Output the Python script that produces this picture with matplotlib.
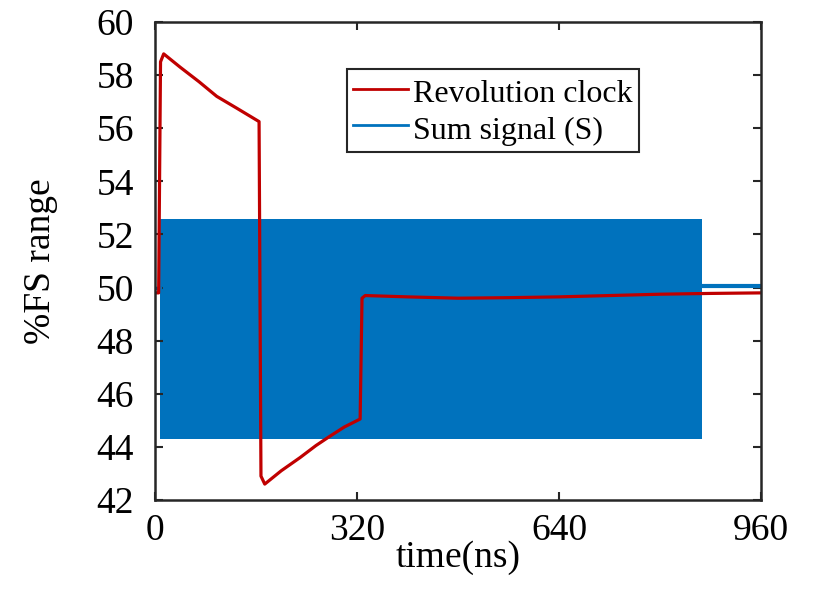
import matplotlib
matplotlib.use("Agg")
import matplotlib.pyplot as plt
from matplotlib.lines import Line2D

plt.rcParams['font.family'] = ['Liberation Serif', 'DejaVu Serif']

# Revolution clock (red) key points: time (ns), %FS
red_t = [0, 6, 9, 14, 40, 70, 98, 130, 165, 168, 174, 200, 230, 255, 277, 300, 325, 328, 333, 400, 480, 560, 640, 720, 800, 880, 960]
red_v = [49.8, 49.8, 58.5, 58.8, 58.3, 57.75, 57.2, 56.75, 56.25, 42.9, 42.6, 43.1, 43.6, 44.05, 44.4, 44.75, 45.05, 49.6, 49.7, 49.65, 49.6, 49.62, 49.65, 49.7, 49.75, 49.78, 49.8]

# Sum signal (blue): envelope of the dense oscillation
sum_t = [8, 867]
sum_hi = [52.6, 52.6]
sum_lo = [44.3, 44.3]
sum_pre_t = [0, 8]
sum_pre_v = [50.0, 50.0]
sum_post_t = [867, 960]
sum_post_v = [50.05, 50.05]

xticks = [0, 320, 640, 960]
yticks = [42, 44, 46, 48, 50, 52, 54, 56, 58, 60]

blue = '#0072BD'
red = '#C00000'

fig = plt.figure(figsize=(8.15, 5.9), dpi=100)
ax = fig.add_axes([0.190, 0.1525, 0.744, 0.8102])

ax.fill_between(sum_t, sum_lo, sum_hi, color=blue, linewidth=0)
ax.plot(sum_pre_t, sum_pre_v, color=blue, lw=2.5)
ax.plot(sum_post_t, sum_post_v, color=blue, lw=3)
ax.plot(red_t, red_v, color=red, lw=2.3)

ax.set_xlim(0, 960)
ax.set_ylim(42, 60)
ax.set_xticks(xticks)
ax.set_yticks(yticks)
ax.tick_params(direction='in', length=6, width=1.5, labelsize=27, top=True, right=True,
               colors='#262626', labelcolor='black')
ax.tick_params(axis='y', pad=15)
ax.tick_params(axis='x', pad=10)
for s in ax.spines.values():
    s.set_linewidth(1.8)
    s.set_color('#262626')

ax.set_xlabel('time(ns)', fontsize=27, labelpad=-6)
ax.set_ylabel('%FS range', fontsize=27, labelpad=28)

handles = [Line2D([], [], color=red, lw=2), Line2D([], [], color=blue, lw=2)]
leg = ax.legend(handles, ['Revolution clock', 'Sum signal (S)'], loc='upper left',
                bbox_to_anchor=(0.317, 0.902), fontsize=23, frameon=True, fancybox=False,
                framealpha=1, handlelength=1.7, handletextpad=0.15, borderpad=0.2,
                labelspacing=0.1, handleheight=1.15, borderaxespad=0)
leg.get_frame().set_edgecolor('#262626')
leg.get_frame().set_linewidth(1.5)

fig.savefig('out.png', dpi=100)
